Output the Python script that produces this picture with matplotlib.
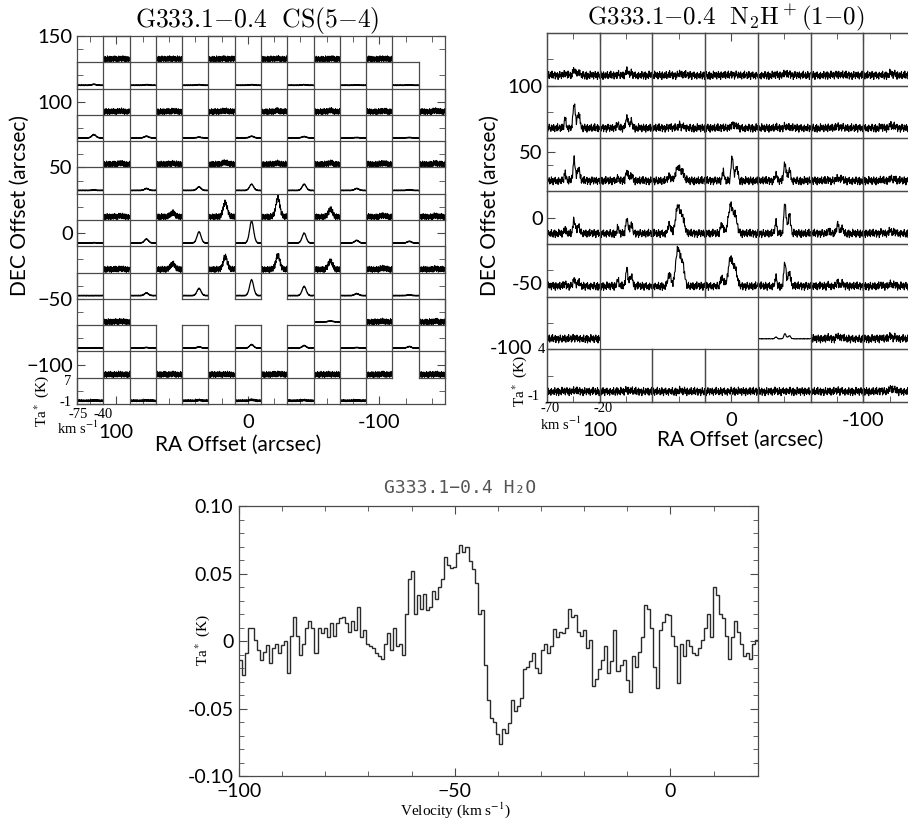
import numpy as np
import matplotlib.pyplot as plt

plt.rcParams['font.family'] = ['Lato', 'DejaVu Sans']
plt.rcParams['mathtext.fontset'] = 'cm'

SERIF = 'Liberation Serif'
EDGE = '#4a4a4a'

# ---------------- CS(5-4) map ----------------
cs_ra = [120, 100, 80, 60, 40, 20, 0, -20, -40, -60, -80, -100, -120, -140]
cs_dec = [140, 120, 100, 80, 60, 40, 20, 0, -20, -40, -60, -80, -100, -120]
cs_vel_range = (-75, -40)
cs_ta_range = (-1, 7)
N = None
# peak Ta* (K) of each observed position, None = not observed
cs_peak = [
    [N, 0.1, N, 0.1, N, 0.1, N, 0.1, N, 0.1, N, 0.1, N, N],
    [0.3, N, 0.2, N, 0.2, N, 0.2, N, 0.2, N, 0.1, N, 0.1, N],
    [N, 0.2, N, 0.2, N, 0.3, N, 0.3, N, 0.3, N, 0.2, N, 0.3],
    [1.0, N, 0.5, N, 0.2, N, 0.5, N, 0.4, N, 0.1, N, 0.1, N],
    [N, 0.3, N, 0.3, N, 0.6, N, 0.3, N, 0.4, N, 0.3, N, 0.3],
    [0.1, N, 0.6, N, 1.1, N, 1.9, N, 1.9, N, 0.6, N, 0.2, N],
    [N, 0.3, N, 1.3, N, 4.4, N, 5.8, N, 2.3, N, 0.4, N, 0.3],
    [0.1, N, 1.2, N, 3.4, N, 6.7, N, 3.0, N, 0.8, N, 0.5, N],
    [N, 0.2, N, 1.8, N, 3.9, N, 4.2, N, 2.6, N, 0.4, N, 0.2],
    [0.0, N, 0.8, N, 2.2, N, 4.8, N, 2.8, N, 0.6, N, 0.2, N],
    [N, 0.2, N, N, N, N, N, N, N, 0.3, N, 0.2, N, 0.2],
    [0.1, N, 0.2, N, 0.4, N, 1.1, N, 0.8, N, 0.2, N, 0.5, N],
    [N, 0.1, N, 0.1, N, 0.1, N, 0.2, N, 0.1, N, 0.1, N, 0.1],
    [0.1, N, 0.1, N, 0.2, N, 0.3, N, 0.2, N, 0.1, N, N, N],
]
# baseline noise amplitude (K) per row, and smooth single positions
cs_noise_row = [0.95, 0.12, 0.95, 0.12, 0.95, 0.12, 0.95, 0.12, 0.95, 0.12, 0.95, 0.12, 0.95, 0.3]
cs_smooth = [(-60, -60)]
cs_profile = ([0] * 40 +
              [0.02, 0.03, 0.04, 0.06, 0.08, 0.1, 0.13, 0.17, 0.21, 0.26, 0.32,
               0.39, 0.46, 0.54, 0.62, 0.7, 0.78, 0.85, 0.91, 0.96, 0.99, 1.0,
               0.99, 0.96, 0.91, 0.85, 0.78, 0.7, 0.62, 0.54, 0.46, 0.39, 0.32,
               0.26, 0.21, 0.17, 0.13, 0.1, 0.08, 0.06, 0.04, 0.03, 0.02, 0.01] +
              [0] * 12)

# ---------------- N2H+(1-0) map ----------------
n2h_ra = [120, 80, 40, 0, -40, -80, -120]
n2h_dec = [120, 80, 40, 0, -40, -80, -120]
n2h_vel_range = (-70, -20)
n2h_ta_range = (-1, 4)
n2h_peak = [
    [0.6, 0.4, 0.2, 0.1, 0.2, 0.1, 0.2],
    [2.4, 1.1, 0.3, 0.4, 0.2, 0.2, 0.3],
    [2.0, 0.9, 1.3, 2.3, 1.7, 0.3, 0.3],
    [1.3, 1.4, 2.6, 2.7, 3.0, 0.9, 0.3],
    [0.6, 1.7, 3.6, 2.7, 2.3, 0.4, 0.3],
    [0.1, N, N, N, 0.5, 0.3, 0.3],
    [0.1, 0.2, 0.1, 0.1, 0.1, 0.1, 0.4],
]
n2h_broad = [(40, 0), (0, 0), (40, -40), (0, -40), (40, 40)]
n2h_smooth = [(-40, -80)]
n2h_noise = 0.4
n2h_narrow_profile = ([0] * 29 +
                      [0.03, 0.1, 0.22, 0.33, 0.35, 0.27, 0.15, 0.06, 0.02] +
                      [0] * 6 +
                      [0.04, 0.12, 0.3, 0.6, 0.88, 1.0, 0.85, 0.58, 0.38, 0.3,
                       0.32, 0.42, 0.53, 0.58, 0.52, 0.38, 0.22, 0.1, 0.04] +
                      [0] * 33)
n2h_broad_profile = ([0] * 25 +
                     [0.03, 0.07, 0.13, 0.2, 0.26, 0.3, 0.31, 0.28, 0.22, 0.16,
                      0.11, 0.09, 0.1, 0.14, 0.22, 0.33, 0.46, 0.6, 0.74, 0.86,
                      0.95, 1.0, 0.99, 0.94, 0.87, 0.8, 0.75, 0.72, 0.7, 0.67,
                      0.62, 0.54, 0.44, 0.33, 0.23, 0.15, 0.09, 0.05, 0.02] +
                     [0] * 32)

# baseline ripple pattern shared by the map spectra
noise_pattern = [0.4, -0.7, 0.9, -0.2, 0.1, -0.9, 0.6, -0.4, 0.8, -1.0,
                 0.3, 0.5, -0.6, 0.2, -0.8, 1.0, -0.3, 0.6, -0.5, -0.1,
                 0.7, -0.9, 0.4, -0.2, 0.9, -0.6, 0.0, 0.5, -1.0, 0.8,
                 -0.4, 0.3, -0.7, 0.6, 0.1, -0.5, 0.9, -0.8, 0.2, -0.3,
                 0.7, -0.6, 1.0, -0.2, -0.7, 0.4, -0.1, 0.8, -0.9, 0.5,
                 -0.4, 0.2, 0.6, -1.0, 0.3, -0.5, 0.9, -0.2, 0.1, -0.8,
                 0.7, -0.3, 0.5, -0.6, 0.8, 0.0, -0.9, 0.4, -0.2, 0.6,
                 -0.7, 1.0, -0.5, 0.2, -0.1, 0.7, -0.8, 0.3, -0.6, 0.9,
                 -0.4, 0.5, -1.0, 0.1, 0.6, -0.3, 0.8, -0.7, 0.2, -0.5,
                 0.4, -0.9, 0.7, -0.2, 0.3, -0.6]

# ---------------- H2O spectrum ----------------
h2o_v_start = -100.0
h2o_dv = 0.7
h2o_ta_mK = [-14, -25, -9, 10, 10, 1, -7, -14, -8, -3,
             -16, -5, -2, -9, -3, 0, -24, 4, 18, 4,
             -10, -2, 10, 15, 10, -9, 10, 6, 10, 3,
             13, 4, 13, 17, 18, 13, 7, 15, 8, 25,
             3, 8, -2, -4, -5, -9, -11, -13, -2, 6,
             -7, 10, -4, -2, -10, 20, 46, 52, 20, 34,
             24, 35, 23, 25, 37, 31, 40, 46, 62, 56,
             54, 55, 65, 71, 66, 70, 59, 53, 43, 20,
             23, -18, -44, -57, -60, -69, -76, -65, -68, -61,
             -44, -52, -48, -42, -21, -19, -15, -9, -20, -24,
             -7, -2, -9, -4, 9, 3, 7, 6, 10, 24,
             18, 19, 7, 4, 8, -5, 1, -33, -28, -21,
             -14, -4, -24, -15, 8, -22, -18, -14, -29, -38,
             -11, -19, -8, 3, 27, 24, 10, -19, -35, 8,
             14, 20, 19, 4, -4, -31, -2, -11, 1, -4,
             -9, -10, -5, 1, 10, 20, 3, 40, 34, 20,
             17, 4, -13, 3, 15, 7, -2, -11, -9, -13,
             -2, 1]

fig = plt.figure(figsize=(9.08, 8.21), dpi=100)


def px(x, y):
    return x / 908.0, 1 - y / 821.0


def add_cell(ax, ra, dec, half, vel, spec, xr, yr, lw):
    to_fig = ax.transData + fig.transFigure.inverted()
    x0, y0 = to_fig.transform((ra + half, dec - half))
    x1, y1 = to_fig.transform((ra - half, dec + half))
    c = fig.add_axes([x0, y0, x1 - x0, y1 - y0])
    c.set_facecolor('none')
    c.plot(vel, spec, color='black', lw=lw)
    c.set_xlim(xr)
    c.set_ylim(yr)
    c.set_xticks([])
    c.set_yticks([])
    for s in c.spines.values():
        s.set_color(EDGE)
        s.set_linewidth(0.9)
    return c


def style_map(ax):
    for s in ax.spines.values():
        s.set_color(EDGE)
        s.set_linewidth(0.9)
    ax.tick_params(which='both', direction='in', top=True, right=True,
                   color=EDGE, labelsize=14.5, pad=3)
    ax.tick_params(which='major', length=6)
    ax.tick_params(which='minor', length=4)
    ax.tick_params(axis='x', pad=7)


# ---- CS panel
ax1 = fig.add_axes([77 / 908, 1 - 404 / 821, 368 / 908, 368 / 821])
ax1.set_xlim(130, -150)
ax1.set_ylim(-130, 150)
ax1.set_xticks([100, 0, -100])
ax1.set_xticklabels(['', '0', '-100'])
ax1.set_yticks([150, 100, 50, 0, -50, -100])
ax1.set_xticks(cs_ra, minor=True)
ax1.set_yticks(cs_dec, minor=True)
style_map(ax1)
ax1.set_title(r'$\mathrm{G333.1{-}0.4\ \ CS(5{-}4)}$', fontsize=18.5, pad=5, x=0.49)

cs_vel = np.linspace(cs_vel_range[0], cs_vel_range[1], len(cs_profile))
noise = np.array(noise_pattern)
k = 0
for i, dec in enumerate(cs_dec):
    for j, ra in enumerate(cs_ra):
        pk = cs_peak[i][j]
        if pk is None:
            continue
        amp = 0.12 if (ra, dec) in cs_smooth else cs_noise_row[i]
        spec = pk * np.array(cs_profile) + amp * np.roll(noise, 7 * k)[:len(cs_profile)]
        add_cell(ax1, ra, dec, 10, cs_vel, spec, cs_vel_range, cs_ta_range,
                 0.75 if amp > 0.5 else 0.9)
        k += 1

# ---- N2H+ panel
ax2 = fig.add_axes([547 / 908, 1 - 402 / 821, 368.9 / 908, 368.9 / 821])
ax2.set_xlim(140, -140)
ax2.set_ylim(-140, 140)
ax2.set_xticks([100, 0, -100])
ax2.set_xticklabels(['', '0', '-100'])
ax2.set_yticks([100, 50, 0, -50, -100])
ax2.set_yticklabels(['100', '50', '0', '-50', ''])
ax2.set_xticks(n2h_ra, minor=True)
ax2.set_yticks(n2h_dec, minor=True)
style_map(ax2)
ax2.set_title(r'$\mathrm{G333.1{-}0.4\ \ N_2H^+(1{-}0)}$', fontsize=18, pad=5, x=0.485)

n2h_vel = np.linspace(n2h_vel_range[0], n2h_vel_range[1], len(n2h_narrow_profile))
for i, dec in enumerate(n2h_dec):
    for j, ra in enumerate(n2h_ra):
        pk = n2h_peak[i][j]
        if pk is None:
            continue
        prof = n2h_broad_profile if (ra, dec) in n2h_broad else n2h_narrow_profile
        amp = 0.03 if (ra, dec) in n2h_smooth else n2h_noise
        spec = pk * np.array(prof) + amp * np.roll(noise, 11 * k)
        add_cell(ax2, ra, dec, 20, n2h_vel, spec, n2h_vel_range, n2h_ta_range, 0.8)
        k += 1

# labels around the maps
for xc, yc, xt, yt in [(238, 445, 20, 205), (740, 440, 490, 205)]:
    fig.text(*px(xc, yc), 'RA Offset (arcsec)', ha='center', va='center', fontsize=15)
    fig.text(*px(xt, yt), 'DEC Offset (arcsec)', ha='center', va='center',
             fontsize=15, rotation=90)
fig.text(*px(116, 432), '100', ha='center', va='center', fontsize=14.5)
fig.text(*px(600, 430), '100', ha='center', va='center', fontsize=14.5)
fig.text(*px(532, 348), '-100', ha='right', va='center', fontsize=14.5)

small = dict(family=SERIF, fontsize=11, ha='center', va='center', math_fontfamily='stix')
tiny = dict(small, fontsize=10.5)
fig.text(*px(78, 414), '-75', **tiny)
fig.text(*px(103, 414), '-40', **tiny)
fig.text(*px(78, 428), r'km s$^{-1}$', **tiny)
fig.text(*px(42, 401), r'Ta$^*$ (K)', rotation=90, **small)
fig.text(*px(68, 381), '7', **tiny)
fig.text(*px(66, 402), '-1', **tiny)

fig.text(*px(550, 408), '-70', **tiny)
fig.text(*px(603, 408), '-20', **tiny)
fig.text(*px(561, 424), r'km s$^{-1}$', **tiny)
fig.text(*px(520, 381), r'Ta$^*$ (K)', rotation=90, **small)
fig.text(*px(541, 349), '4', **tiny)
fig.text(*px(534, 396), '-1', **tiny)

# ---- H2O panel
ax3 = fig.add_axes([239 / 908, 1 - 776 / 821, 519 / 908, 270 / 821])
edges = h2o_v_start + h2o_dv * np.arange(len(h2o_ta_mK) + 1)
ax3.stairs(np.array(h2o_ta_mK) / 1000.0, edges, color='#2a2a2a', lw=1.0, baseline=None)
ax3.set_xlim(-100, 20.3)
ax3.set_ylim(-0.10, 0.10)
ax3.set_xticks([-100, -50, 0])
ax3.set_xticks(np.arange(-90, 20, 10), minor=True)
ax3.set_yticks([0.10, 0.05, 0, -0.05, -0.10])
ax3.set_yticklabels(['0.10', '0.05', '0', '-0.05', '-0.10'])
ax3.set_yticks(np.arange(-0.09, 0.1, 0.01), minor=True)
for s in ax3.spines.values():
    s.set_color(EDGE)
    s.set_linewidth(0.9)
ax3.tick_params(which='both', direction='in', top=True, right=True, color=EDGE,
                labelsize=14)
ax3.tick_params(which='major', length=6)
ax3.tick_params(which='minor', length=3.5)
ax3.tick_params(axis='x', pad=5)
ax3.tick_params(axis='y', pad=4)
fig.text(*px(460, 488), 'G333.1\u22120.4 H\u2082O', family='DejaVu Sans Mono',
         fontsize=13, color='#555555', ha='center', va='center')
fig.text(*px(455, 810), r'Velocity (km s$^{-1}$)', **small)
fig.text(*px(203, 640), r'Ta$^*$ (K)', rotation=90, **small)

fig.savefig('out.png', dpi=100)
